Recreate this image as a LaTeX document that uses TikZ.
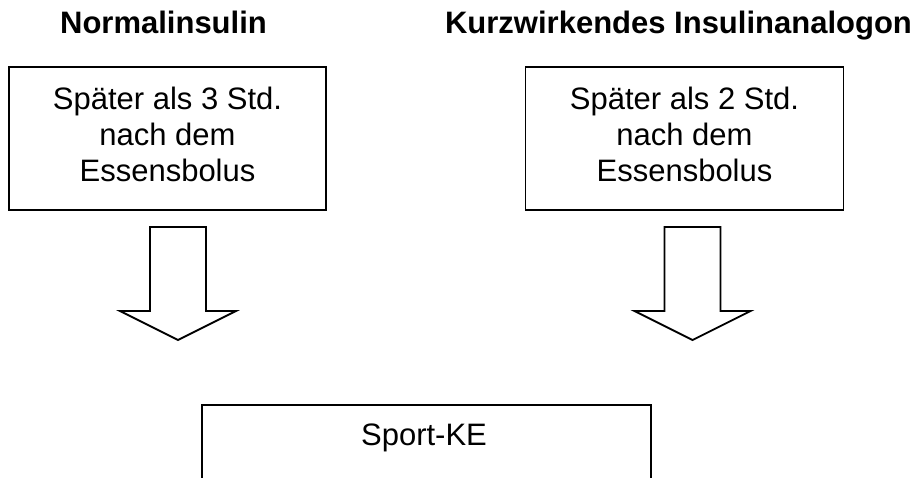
\documentclass[tikz,border=0pt]{standalone}
\usepackage{fontspec}
\setmainfont{Liberation Sans}
\begin{document}
\begin{tikzpicture}[x=1pt,y=-1pt,
  hdr/.style={font=\fontsize{31}{36}\selectfont\bfseries, anchor=base, inner sep=0pt},
  boxtxt/.style={font=\fontsize{31}{36}\selectfont, align=center, inner sep=0pt},
  frame/.style={draw=black, line width=1.8pt},
  blockarrow/.style={draw=black, line width=1.8pt, fill=white, line join=miter},
  pics/downarrow/.style={code={
    \draw[blockarrow] (-28,0) -- (28,0) -- (28,84) -- (58,84) -- (0,113) -- (-58,84) -- (-28,84) -- cycle;
  }}]
\useasboundingbox (0,0) rectangle (919,477);
\clip (0,0) rectangle (919,477);
% headers
\node[hdr] (h1) at (163.5,33) {Normalinsulin};
\node[hdr] (h2) at (678.5,33) {Kurzwirkendes Insulinanalogon};
% upper boxes
\node[frame, minimum width=317pt, minimum height=143pt] (box1) at (167.5,138.5) {};
\node[frame, minimum width=318pt, minimum height=143pt] (box2) at (684.5,138.5) {};
\node[boxtxt] (t1) at ([yshift=4pt]box1.center) {Später als 3 Std.\\nach dem\\Essensbolus};
\node[boxtxt] (t2) at ([yshift=4pt]box2.center) {Später als 2 Std.\\nach dem\\Essensbolus};
% block arrows
\pic at (178,227) {downarrow};
\pic at (692.5,227) {downarrow};
% bottom box (cut off by the page edge)
\node[frame, minimum width=449pt, minimum height=100pt] (box3) at (426.5,455) {};
\node[boxtxt, anchor=base] (t3) at (424,445) {Sport-KE};
\end{tikzpicture}
\end{document}
